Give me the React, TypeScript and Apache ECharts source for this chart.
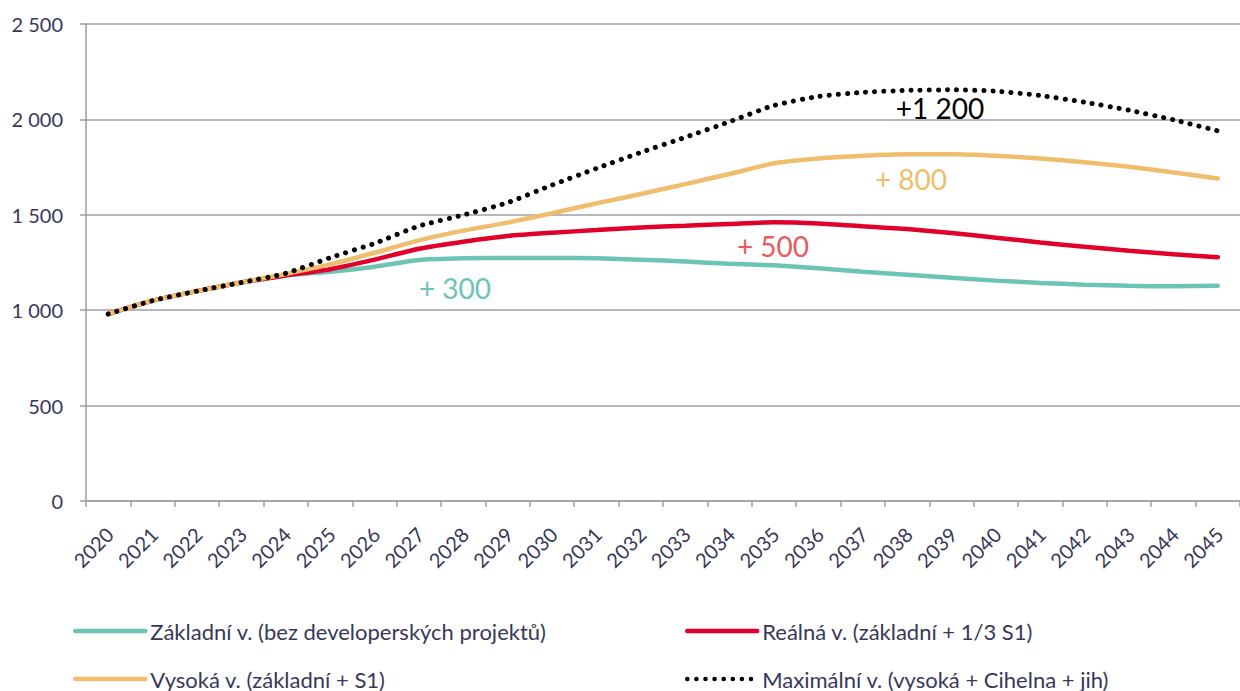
import React, { useEffect, useRef } from "react";
import * as echarts from "echarts";

const years = ["2020","2021","2022","2023","2024","2025","2026","2027","2028","2029","2030","2031","2032","2033","2034","2035","2036","2037","2038","2039","2040","2041","2042","2043","2044","2045"];

const seriesNames = [
  "Základní v. (bez developerských projektů)",
  "Reálná v. (základní + 1/3 S1)",
  "Vysoká v. (základní + S1)",
  "Maximální v. (vysoká + Cihelna + jih)",
];

const zakladni = [980, 1050, 1100, 1145, 1182, 1202, 1228, 1263, 1272, 1274, 1274, 1272, 1265, 1255, 1243, 1235, 1220, 1202, 1186, 1170, 1155, 1143, 1134, 1128, 1125, 1128];
const realna = [980, 1050, 1100, 1145, 1182, 1215, 1265, 1322, 1359, 1389, 1406, 1420, 1434, 1443, 1452, 1461, 1455, 1440, 1425, 1405, 1380, 1355, 1332, 1312, 1293, 1277];
const vysoka = [980, 1050, 1100, 1145, 1190, 1240, 1301, 1366, 1417, 1459, 1508, 1560, 1609, 1661, 1714, 1770, 1795, 1810, 1818, 1818, 1810, 1795, 1775, 1752, 1722, 1690];
const maximalni = [980, 1050, 1100, 1145, 1193, 1275, 1350, 1441, 1499, 1564, 1656, 1743, 1827, 1906, 1988, 2073, 2120, 2142, 2152, 2155, 2148, 2125, 2090, 2048, 1998, 1940];

const annotations = [
  { text: "+ 300", color: "#6cc4b5" },
  { text: "+ 500", color: "#ea5a5c" },
  { text: "+ 800", color: "#f0bd6c" },
  { text: "+1 200", color: "#000000" },
];

const TEAL = "#6cc4b5";
const RED = "#e0002b";
const ORANGE = "#f0bd6c";
const TXT = "#383858";
const GRID = "#9e9ea6";
const FONT = "Lato, 'Open Sans', sans-serif";

export default function App() {
  const ref = useRef<HTMLDivElement>(null);
  useEffect(() => {
    if (!ref.current) return;
    const chart = echarts.init(ref.current, undefined, { renderer: "svg" });
    const fmt = (v: number) => String(v).replace(/\B(?=(\d{3})+(?!\d))/g, " ");
    const legendBase = {
      itemWidth: 70,
      itemHeight: 14,
      padding: 0,
      itemStyle: { opacity: 0 },
      lineStyle: { width: 4.5, cap: "round" },
      textStyle: { color: TXT, fontSize: 22, fontFamily: FONT },
    };
    const annPos = [
      [455, 288],
      [773, 246],
      [911, 179],
      [940, 108],
    ];
    chart.setOption({
      animation: false,
      backgroundColor: "#ffffff",
      grid: { left: 86, right: -12, top: 24, bottom: 190, containLabel: false },
      xAxis: {
        type: "category",
        data: years,
        boundaryGap: true,
        axisLine: { show: true, lineStyle: { color: GRID, width: 1.5 } },
        axisTick: { show: true, length: 6, lineStyle: { color: GRID, width: 1.5 } },
        axisLabel: {
          interval: 0,
          rotate: 45,
          margin: 17,
          align: "right",
          verticalAlign: "top",
          padding: [0, 8, 0, 0],
          color: TXT,
          fontSize: 20,
          fontFamily: FONT,
        },
        splitLine: { show: false },
      },
      yAxis: {
        type: "value",
        min: 0,
        max: 2500,
        interval: 500,
        axisLine: { show: true, lineStyle: { color: GRID, width: 1.5 } },
        axisTick: { show: true, length: 6, lineStyle: { color: GRID, width: 1.5 } },
        axisLabel: { color: TXT, fontSize: 20, fontFamily: FONT, margin: 23, formatter: fmt },
        splitLine: { show: true, lineStyle: { color: GRID, width: 1.5 } },
      },
      legend: [
        { ...legendBase, data: [seriesNames[0]], left: 73, top: 620 },
        { ...legendBase, data: [seriesNames[1]], left: 685, top: 620 },
        { ...legendBase, data: [seriesNames[2]], left: 73, top: 668 },
        { ...legendBase, data: [seriesNames[3]], left: 685, top: 668 },
      ],
      series: [
        {
          name: seriesNames[0], type: "line", data: zakladni, smooth: 0.2, symbol: "none",
          lineStyle: { color: TEAL, width: 4.5, cap: "round" }, itemStyle: { color: TEAL }, z: 2,
        },
        {
          name: seriesNames[1], type: "line", data: realna, smooth: 0.2, symbol: "none",
          lineStyle: { color: RED, width: 4.5, cap: "round" }, itemStyle: { color: RED }, z: 3,
        },
        {
          name: seriesNames[2], type: "line", data: vysoka, smooth: 0.2, symbol: "none",
          lineStyle: { color: ORANGE, width: 4.5, cap: "round" }, itemStyle: { color: ORANGE }, z: 4,
        },
        {
          name: seriesNames[3], type: "line", data: maximalni, smooth: 0.2, symbol: "none",
          lineStyle: { color: "#000000", width: 5, type: [0.1, 9], cap: "round" }, itemStyle: { color: "#000000" }, z: 5,
        },
      ],
      graphic: annotations.map((a, i) => ({
        type: "text",
        x: annPos[i][0],
        y: annPos[i][1],
        z: 10,
        style: {
          text: a.text,
          fill: a.color,
          fontSize: 28,
          fontFamily: FONT,
          align: "center",
          verticalAlign: "middle",
        },
      })),
    });
    return () => chart.dispose();
  }, []);
  return (
    <div
      ref={ref}
      style={{ position: "fixed", left: 0, top: 0, width: 1240, height: 691, background: "#fff" }}
    />
  );
}
